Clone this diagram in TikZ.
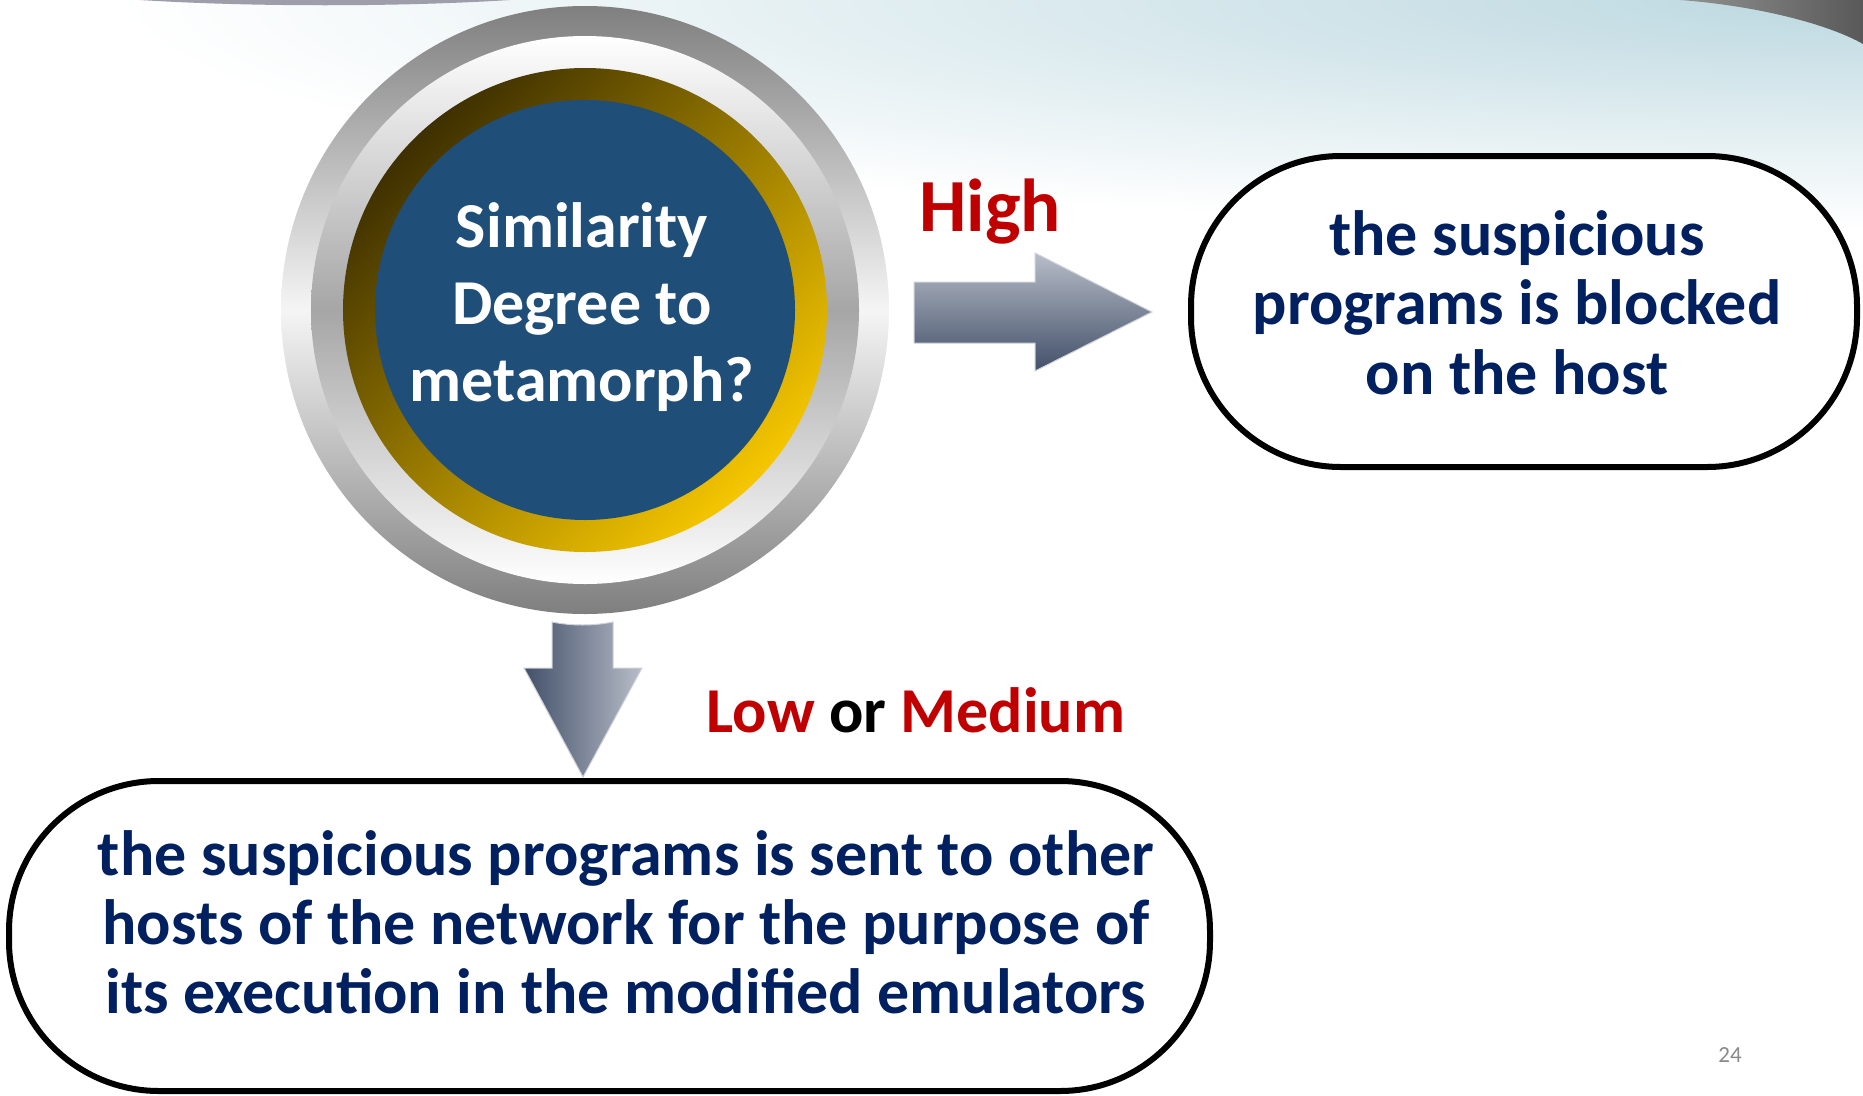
\documentclass[tikz,border=0pt]{standalone}
\usepackage{fontspec}
\setmainfont{Carlito}
\definecolor{navy}{HTML}{002060}
\definecolor{redt}{HTML}{C00000}
\definecolor{diskblue}{HTML}{1F4E79}
\definecolor{golddark}{HTML}{3E3000}
\definecolor{goldbright}{HTML}{F5C600}
\definecolor{ringgray}{HTML}{7F7F7F}
\definecolor{ringmid}{HTML}{A6A6A6}
\definecolor{arrlight}{HTML}{B8BDC8}
\definecolor{arrdark}{HTML}{425069}
\definecolor{skyblue}{HTML}{BCD8E0}
\definecolor{pagegray}{HTML}{8A8A8A}
\tikzset{
  boxline/.style={draw=black, line width=6pt, fill=white, rounded corners=150pt, inner sep=0pt},
  boxtext/.style={font={\fontsize{64}{69.5}\selectfont\bfseries}, text=navy, align=center, anchor=base, inner sep=0pt},
  circtext/.style={font={\fontsize{64}{77}\selectfont\bfseries}, text=white, align=center, anchor=base, inner sep=0pt},
  redlabel/.style={font={\bfseries}, text=redt, anchor=base, inner sep=0pt},
  ring/.style={circle, inner sep=0pt, outer sep=0pt},
  blockarrow/.style={draw=arrlight!70, line width=1pt},
}
\begin{document}
\begin{tikzpicture}[x=1pt,y=-1pt]
% background
\fill[white] (0,0) rectangle (1863,1095);
\useasboundingbox (0,0) rectangle (1863,1095);
\begin{scope}
  \clip (0,0) rectangle (1863,1095);
  \shade[inner color=skyblue, outer color=white] (1863,0) ellipse (1750 and 230);
  \shade[left color=ringgray!85, right color=ringgray!130] (1680,0) .. controls (1760,6) and (1830,25) .. (1863,44) -- (1863,0) -- cycle;
  \fill[ringmid!95!blue] (140,0) .. controls (250,7) and (400,7) .. (510,0) -- cycle;
\end{scope}

% question circle
\node[ring, minimum size=608pt, top color=ringgray, bottom color=ringgray, middle color=white!96!black] (ringout) at (585,310) {};
\node[ring, minimum size=548pt, top color=white, bottom color=white, middle color=ringmid] (ringin) at (585,310) {};
\node[ring, minimum size=484pt, top color=golddark, bottom color=goldbright, shading angle=45] (goldring) at (585,310) {};
\node[ring, minimum size=420pt, fill=diskblue] (disk) at (585,310) {};
\node[circtext] (qtext) at (582,401) {Similarity\\Degree to\\metamorph?};

% result boxes
\node[boxline, minimum width=666pt, minimum height=311pt] (high) at (1524,311.5) {};
\node[boxtext] (hightext) at (1517,394) {the suspicious\\programs is blocked\\on the host};
\node[boxline, minimum width=1201pt, minimum height=310pt] (low) at (609.5,936) {};
\node[boxtext, font={\fontsize{64}{69}\selectfont\bfseries}] (lowtext) at (626,1013) {the suspicious programs is sent to other\\hosts of the network for the purpose of\\its execution in the modified emulators};

% block arrows
\shade[blockarrow, top color=arrlight, bottom color=arrdark]
  (914,282) -- (1035,282) -- (1035,253) -- (1152,312) -- (1035,371) -- (1035,343) -- (914,343) -- cycle;
\shade[blockarrow, left color=arrdark, right color=arrlight]
  (552,622) .. controls (572,626) and (593,626) .. (613,622) -- (613,668) -- (642,668) -- (583,777) -- (524,668) -- (552,668) -- cycle;

% labels
\node[redlabel, font={\fontsize{75}{80}\selectfont\bfseries}] (lblhigh) at (990,231) {High};
\node[anchor=base, inner sep=0pt, font={\fontsize{64}{70}\selectfont\bfseries}] (lbllow) at (916,732) {\textcolor{redt}{Low} or \textcolor{redt}{Medium}};
\node[anchor=base, inner sep=0pt, text=pagegray, font={\fontsize{23}{26}\selectfont}] (pagenum) at (1730,1062) {24};
\end{tikzpicture}
\end{document}
